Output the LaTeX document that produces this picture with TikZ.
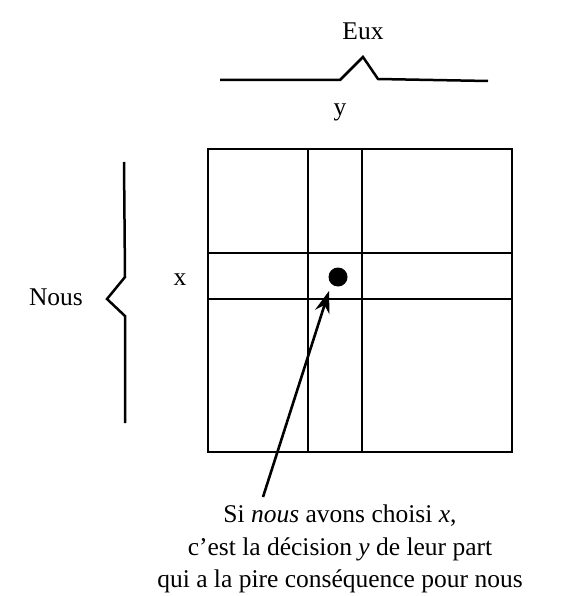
\documentclass[tikz,border=0pt]{standalone}
\usepackage{fontspec}
\setmainfont{Liberation Serif}
\usetikzlibrary{arrows.meta}

\begin{document}
\begin{tikzpicture}[line width=2.3pt, line join=miter, x=1pt, y=-1pt,
    lbl/.style={font=\fontsize{25.5}{32.5}\selectfont, inner sep=0pt},
    brace/.style={line width=2.5pt}]
  \useasboundingbox (0,0) rectangle (561,596);
  % Labels.
  \node[lbl] (eux) at (363,31) {Eux};
  \node[lbl] (ycol) at (340,112) {y};
  \node[lbl] (xrow) at (180,280) {x};
  \node[lbl] (nous) at (56,297) {Nous};
  % Braces.
  \draw[brace] (220,80) -- (340,80) -- (363,57) -- (378,79) -- (488,81);
  \draw[brace] (124,162) -- (125,277) -- (107,299) -- (125,316) -- (125,423);
  % Square and the row/column.
  \draw (208,149) rectangle (512,452);
  \foreach \x in {308,362} {
    \draw (\x,149) -- (\x,452);
  }
  \foreach \y in {253,299} {
    \draw (208,\y) -- (512,\y);
  }
  % Worst outcome.
  \node[circle, fill, inner sep=0pt, minimum size=19pt] (dot) at (338,277) {};
  \node[lbl, align=center] (note) at (340,549)
    {Si \textit{nous} avons choisi \textit{x},\\
     c'est la décision \textit{y} de leur part\\
     qui a la pire conséquence pour nous};
  \coordinate (tail) at (263,497);
  \draw[-{Stealth[length=22pt,width=15pt]}, line width=2.6pt] (tail) -- (329,291);
\end{tikzpicture}
\end{document}
